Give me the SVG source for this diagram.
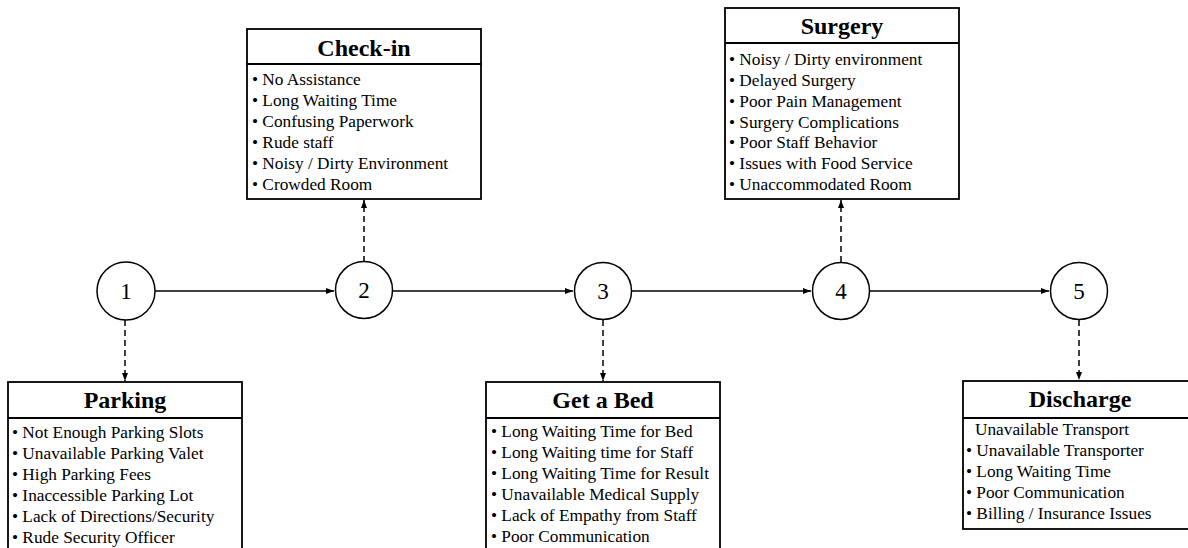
<svg xmlns="http://www.w3.org/2000/svg" width="1188" height="548" viewBox="0 0 1188 548">
<style>
.box{fill:#fff;stroke:#000;stroke-width:1.8}
.div{stroke:#000;stroke-width:1.8}
.title{font-family:"Liberation Serif","Times New Roman",serif;font-size:24px;font-weight:bold;text-anchor:middle;fill:#000}
.item{font-family:"Liberation Serif","Times New Roman",serif;font-size:17.3px;fill:#000}
.num{font-family:"Liberation Serif","Times New Roman",serif;font-size:23px;text-anchor:middle;fill:#000}
.circ{fill:#fff;stroke:#000;stroke-width:1.5}
.solid{stroke:#000;stroke-width:1.5;fill:none}
.dash{stroke:#000;stroke-width:1.5;fill:none;stroke-dasharray:6,4}
</style>
<defs>
<marker id="ah" viewBox="0 0 8 6" refX="8" refY="3" markerWidth="8" markerHeight="6" markerUnits="userSpaceOnUse" orient="auto">
<path d="M0,0 L8,3 L0,6 z" fill="#000"/>
</marker>
</defs>
<rect width="1188" height="548" fill="#fff"/>
<g id="connectors">
<line class="solid" x1="155" y1="291" x2="334" y2="291" marker-end="url(#ah)"/>
<line class="solid" x1="393" y1="291" x2="573" y2="291" marker-end="url(#ah)"/>
<line class="solid" x1="632" y1="291" x2="811" y2="291" marker-end="url(#ah)"/>
<line class="solid" x1="870" y1="291" x2="1049" y2="291" marker-end="url(#ah)"/>
<line class="dash" x1="125" y1="320" x2="125" y2="381" marker-end="url(#ah)"/>
<line class="dash" x1="603" y1="320" x2="603" y2="381" marker-end="url(#ah)"/>
<line class="dash" x1="1079" y1="320" x2="1079" y2="380" marker-end="url(#ah)"/>
<line class="dash" x1="364" y1="262" x2="364" y2="200" marker-end="url(#ah)"/>
<line class="dash" x1="841" y1="262" x2="841" y2="200" marker-end="url(#ah)"/>
</g>
<g id="step1"><circle class="circ" cx="126" cy="291" r="29"/><text class="num" x="126" y="299">1</text></g>
<g id="step2"><circle class="circ" cx="364" cy="290" r="28.5"/><text class="num" x="364" y="298">2</text></g>
<g id="step3"><circle class="circ" cx="603" cy="291" r="28.5"/><text class="num" x="603" y="299">3</text></g>
<g id="step4"><circle class="circ" cx="841" cy="291" r="28.5"/><text class="num" x="841" y="299">4</text></g>
<g id="step5"><circle class="circ" cx="1079" cy="291" r="28.5"/><text class="num" x="1079" y="299">5</text></g>
<g id="checkin">
<rect class="box" x="247" y="29" width="234" height="170"/>
<line class="div" x1="247" y1="64" x2="481" y2="64"/>
<text class="title" x="364" y="56">Check-in</text>
<text class="item" x="252" y="85">• No Assistance</text>
<text class="item" x="252" y="106">• Long Waiting Time</text>
<text class="item" x="252" y="127">• Confusing Paperwork</text>
<text class="item" x="252" y="148">• Rude staff</text>
<text class="item" x="252" y="169">• Noisy / Dirty Environment</text>
<text class="item" x="252" y="190">• Crowded Room</text>
</g>
<g id="surgery">
<rect class="box" x="725" y="8" width="234" height="191"/>
<line class="div" x1="725" y1="43" x2="959" y2="43"/>
<text class="title" x="842" y="34">Surgery</text>
<text class="item" x="729" y="65">• Noisy / Dirty environment</text>
<text class="item" x="729" y="86">• Delayed Surgery</text>
<text class="item" x="729" y="107">• Poor Pain Management</text>
<text class="item" x="729" y="128">• Surgery Complications</text>
<text class="item" x="729" y="148">• Poor Staff Behavior</text>
<text class="item" x="729" y="169">• Issues with Food Service</text>
<text class="item" x="729" y="190">• Unaccommodated Room</text>
</g>
<g id="parking">
<rect class="box" x="8" y="382" width="234" height="180"/>
<line class="div" x1="8" y1="418" x2="242" y2="418"/>
<text class="title" x="125" y="408">Parking</text>
<text class="item" x="12" y="438">• Not Enough Parking Slots</text>
<text class="item" x="12" y="459">• Unavailable Parking Valet</text>
<text class="item" x="12" y="480">• High Parking Fees</text>
<text class="item" x="12" y="501">• Inaccessible Parking Lot</text>
<text class="item" x="12" y="522">• Lack of Directions/Security</text>
<text class="item" x="12" y="543">• Rude Security Officer</text>
</g>
<g id="getabed">
<rect class="box" x="486" y="382" width="234" height="180"/>
<line class="div" x1="486" y1="418" x2="720" y2="418"/>
<text class="title" x="603" y="408">Get a Bed</text>
<text class="item" x="491" y="437">• Long Waiting Time for Bed</text>
<text class="item" x="491" y="458">• Long Waiting time for Staff</text>
<text class="item" x="491" y="479">• Long Waiting Time for Result</text>
<text class="item" x="491" y="500">• Unavailable Medical Supply</text>
<text class="item" x="491" y="521">• Lack of Empathy from Staff</text>
<text class="item" x="491" y="542">• Poor Communication</text>
</g>
<g id="discharge">
<rect class="box" x="963" y="381" width="234" height="148"/>
<line class="div" x1="963" y1="418" x2="1197" y2="418"/>
<text class="title" x="1080" y="407">Discharge</text>
<text class="item" x="975" y="435">Unavailable Transport</text>
<text class="item" x="966" y="456">• Unavailable Transporter</text>
<text class="item" x="966" y="477">• Long Waiting Time</text>
<text class="item" x="966" y="498">• Poor Communication</text>
<text class="item" x="966" y="519">• Billing / Insurance Issues</text>
</g>
</svg>
